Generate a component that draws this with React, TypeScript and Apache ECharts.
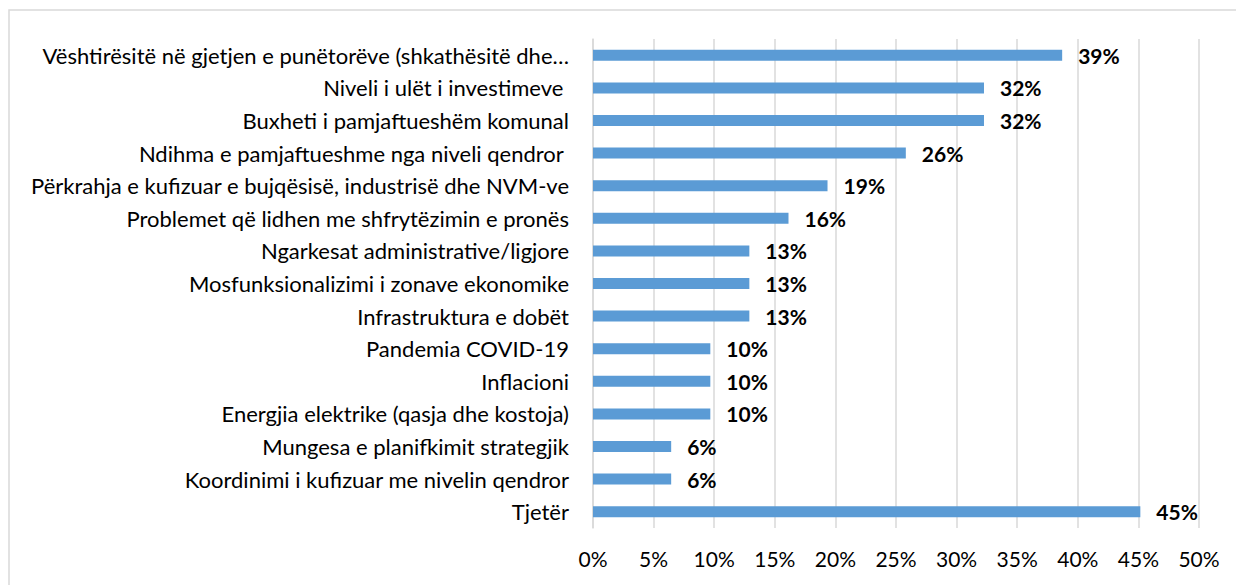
import React, { useEffect, useRef } from "react";
import * as echarts from "echarts";

const categories: string[] = [
  "Vështirësitë në gjetjen e punëtorëve (shkathësitë dhe…",
  "Niveli i ulët i investimeve ",
  "Buxheti i pamjaftueshëm komunal",
  "Ndihma e pamjaftueshme nga niveli qendror ",
  "Përkrahja e kufizuar e bujqësisë, industrisë dhe NVM-ve",
  "Problemet që lidhen me shfrytëzimin e pronës",
  "Ngarkesat administrative/ligjore",
  "Mosfunksionalizimi i zonave ekonomike",
  "Infrastruktura e dobët",
  "Pandemia COVID-19",
  "Inflacioni",
  "Energjia elektrike (qasja dhe kostoja)",
  "Mungesa e planifkimit strategjik",
  "Koordinimi i kufizuar me nivelin qendror",
  "Tjetër",
];

const values: number[] = [
  38.71, 32.26, 32.26, 25.81, 19.35, 16.13, 12.9, 12.9, 12.9, 9.68, 9.68, 9.68, 6.45, 6.45, 45.16,
];

const FONT = "Lato";

export default function App() {
  const ref = useRef<HTMLDivElement>(null);
  useEffect(() => {
    document.body.style.margin = "0";
    const chart = echarts.init(ref.current!, null, { renderer: "svg" });
    chart.setOption({
      animation: false,
      backgroundColor: "#ffffff",
      textStyle: { fontFamily: FONT },
      graphic: [
        {
          type: "rect",
          shape: { x: 9, y: 10, width: 1300, height: 700 },
          style: { fill: "none", stroke: "#D9D9D9", lineWidth: 1.5 },
          silent: true,
        },
      ],
      grid: { left: 593, right: 37, top: 39, bottom: 57, containLabel: false },
      xAxis: {
        type: "value",
        min: 0,
        max: 50,
        interval: 5,
        axisLine: { show: false },
        axisTick: { show: false },
        splitLine: { show: true, lineStyle: { color: "#D9D9D9", width: 1.5 } },
        axisLabel: {
          formatter: (v: number) => `${v}%`,
          color: "#000",
          fontFamily: FONT,
          fontSize: 21,
          margin: 20,
        },
      },
      yAxis: {
        type: "category",
        inverse: true,
        data: categories,
        axisLine: { show: true, lineStyle: { color: "#D9D9D9", width: 1.5 } },
        axisTick: { show: false },
        axisLabel: {
          color: "#000",
          fontFamily: FONT,
          fontSize: 22,
          margin: 24,
          formatter: (s: string) => s.replace(/ $/, "\u00A0"),
        },
      },
      series: [
        {
          type: "bar",
          data: values,
          barWidth: 11,
          itemStyle: { color: "#5B9BD5" },
          label: {
            show: true,
            position: "right",
            distance: 16,
            formatter: (p: any) => `${Math.round(p.value)}%`,
            color: "#000",
            fontFamily: FONT,
            fontWeight: "bold",
            fontSize: 21,
          },
        },
      ],
    });
    return () => chart.dispose();
  }, []);
  return <div ref={ref} style={{ width: 1236, height: 585, overflow: "hidden" }} />;
}
